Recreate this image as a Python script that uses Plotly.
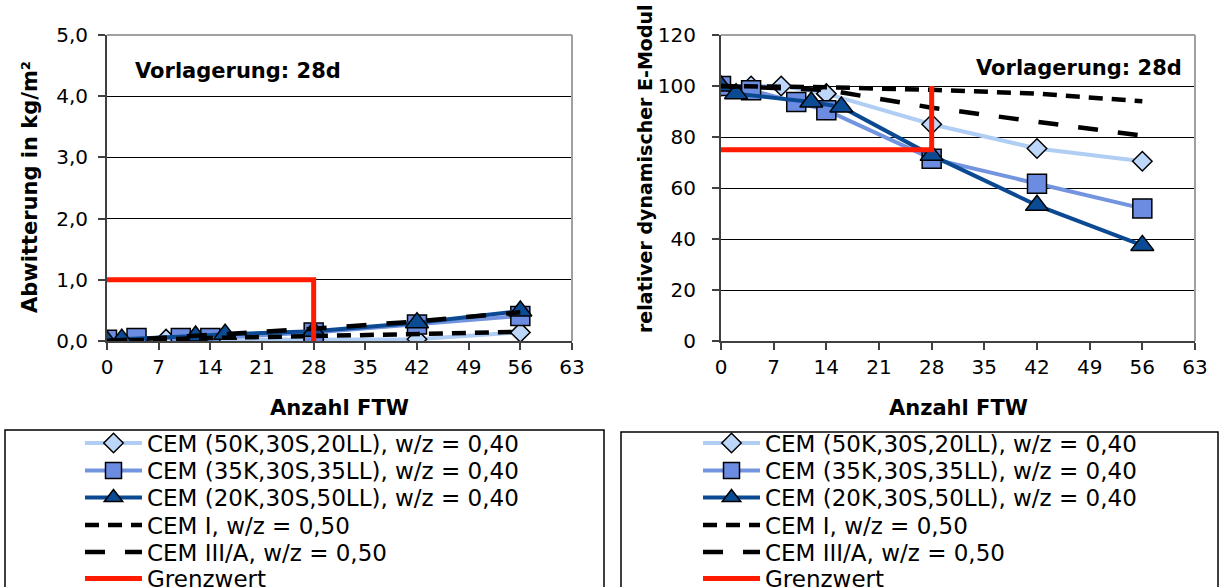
import plotly.graph_objects as go

W, H = 1219, 587

# ---------------- data ----------------
series_names = [
    "CEM (50K,30S,20LL), w/z = 0,40",
    "CEM (35K,30S,35LL), w/z = 0,40",
    "CEM (20K,30S,50LL), w/z = 0,40",
    "CEM I, w/z = 0,50",
    "CEM III/A, w/z = 0,50",
    "Grenzwert",
]

ftw_50 = [0, 4, 8, 14, 28, 42, 56]
ftw_35 = [0, 4, 10, 14, 28, 42, 56]
ftw_20 = [0, 2, 12, 16, 28, 42, 56]
ftw_cem1 = [0, 14, 28, 42, 56]
ftw_cem3 = [0, 14, 28, 42, 56]
ftw_limit = [0, 28, 28]

# Abwitterung in kg/m²
abw_50 = [0.00, 0.02, 0.03, 0.03, 0.02, 0.03, 0.14]
abw_35 = [0.02, 0.05, 0.05, 0.05, 0.14, 0.27, 0.41]
abw_20 = [0.00, 0.03, 0.08, 0.11, 0.16, 0.30, 0.49]
abw_cem1 = [0.00, 0.05, 0.08, 0.11, 0.15]
abw_cem3 = [0.00, 0.10, 0.20, 0.32, 0.47]
abw_limit = [1.0, 1.0, 0.0]

# relativer dynamischer E-Modul in %
edyn_50 = [100, 100, 100, 97, 85, 75.5, 70.5]
edyn_35 = [100, 98.3, 93.7, 90.5, 71.5, 61.7, 52]
edyn_20 = [100, 97, 93.7, 91.8, 72.8, 53.2, 37.5]
edyn_cem1 = [100, 99.5, 98.5, 97, 94]
edyn_cem3 = [100, 98.5, 91.5, 86, 80.5]
edyn_limit = [75, 75, 100]

x_tick_vals = [0, 7, 14, 21, 28, 35, 42, 49, 56, 63]
y1_tick_vals = [0, 1, 2, 3, 4, 5]
y1_tick_text = ["0,0", "1,0", "2,0", "3,0", "4,0", "5,0"]
y2_tick_vals = [0, 20, 40, 60, 80, 100, 120]

# ---------------- styles ----------------
FONT = "DejaVu Sans"
styles = [
    dict(mode="lines+markers", line=dict(color="#b0cdf4", width=4),
         marker=dict(symbol="diamond", size=15, color="#bdd7fb", line=dict(color="#000", width=1.5))),
    dict(mode="lines+markers", line=dict(color="#7395df", width=4),
         marker=dict(symbol="square", size=19, color="#6b8ce0", line=dict(color="#000", width=1.5))),
    dict(mode="lines+markers", line=dict(color="#0b4a92", width=4),
         marker=dict(symbol="triangle-up", size=20, color="#0a4b94", line=dict(color="#000", width=1.5))),
    dict(mode="lines", line=dict(color="#000", width=4.5, dash="14px,9px")),
    dict(mode="lines", line=dict(color="#000", width=4.5, dash="20px,20px")),
    dict(mode="lines", line=dict(color="#ff1a00", width=5)),
]

left_x = [ftw_50, ftw_35, ftw_20, ftw_cem1, ftw_cem3, ftw_limit]
left_y = [abw_50, abw_35, abw_20, abw_cem1, abw_cem3, abw_limit]
right_x = [ftw_50, ftw_35, ftw_20, ftw_cem1, ftw_cem3, ftw_limit]
right_y = [edyn_50, edyn_35, edyn_20, edyn_cem1, edyn_cem3, edyn_limit]


def px(x):
    return x / W


def py(y):
    return 1 - y / H


fig = go.Figure()

row_centres = [443, 470.5, 497.5, 525, 552, 578.5]
legend_layouts = {}
n = 0
for side, xs, ys, xa, ya, lx in [
    ("L", left_x, left_y, "x", "y", 80),
    ("R", right_x, right_y, "x2", "y2", 698),
]:
    for i in range(6):
        n += 1
        lname = "legend" if n == 1 else f"legend{n}"
        fig.add_trace(go.Scatter(
            x=xs[i], y=ys[i], name=series_names[i], xaxis=xa, yaxis=ya,
            legend=lname, showlegend=True, **styles[i]))
        legend_layouts[lname] = dict(
            x=px(lx), xanchor="left", y=py(row_centres[i]), yanchor="middle",
            bgcolor="rgba(0,0,0,0)", borderwidth=0, itemwidth=57,
            font=dict(family=FONT, size=23, color="#000"),
            itemclick=False, itemdoubleclick=False,
        )

axis_common = dict(
    showline=True, linecolor="#404040", linewidth=2,
    ticks="outside", ticklen=7, tickcolor="#404040", tickwidth=1.5,
    tickfont=dict(family=FONT, size=20, color="#000"),
    zeroline=False,
)

y_dom = [py(341), py(35)]

fig.update_layout(
    width=W, height=H,
    margin=dict(l=0, r=0, t=0, b=0, autoexpand=False),
    paper_bgcolor="white", plot_bgcolor="white",
    font=dict(family=FONT, color="#000"),
    xaxis=dict(domain=[px(107), px(572)], anchor="y", range=[0, 63],
               tickvals=x_tick_vals, showgrid=False, **axis_common),
    yaxis=dict(domain=y_dom, anchor="x", range=[0, 5],
               tickvals=y1_tick_vals, ticktext=y1_tick_text,
               showgrid=True, gridcolor="#000", gridwidth=1,
               ticklabelstandoff=6, **axis_common),
    xaxis2=dict(domain=[px(721), px(1195)], anchor="y2", range=[0, 63],
                tickvals=x_tick_vals, showgrid=False, **axis_common),
    yaxis2=dict(domain=y_dom, anchor="x2", range=[0, 120],
                tickvals=y2_tick_vals,
                showgrid=True, gridcolor="#000", gridwidth=1,
                ticklabelstandoff=12, **axis_common),
    showlegend=True,
    **legend_layouts,
)

shapes = []
# grey frame (top & right) of both plot areas
for xr, yr in [("x domain", "y domain"), ("x2 domain", "y2 domain")]:
    shapes.append(dict(type="line", xref=xr, yref=yr, x0=0, x1=1, y0=1, y1=1,
                       line=dict(color="#a0a0a0", width=2), layer="above"))
    shapes.append(dict(type="line", xref=xr, yref=yr, x0=1, x1=1, y0=0, y1=1,
                       line=dict(color="#a0a0a0", width=2), layer="above"))
# legend boxes
shapes.append(dict(type="rect", xref="paper", yref="paper",
                   x0=px(5), x1=px(604), y0=py(600), y1=py(430),
                   line=dict(color="#000", width=1.5)))
shapes.append(dict(type="rect", xref="paper", yref="paper",
                   x0=px(621), x1=px(1218), y0=py(600), y1=py(432),
                   line=dict(color="#000", width=1.5)))
fig.update_layout(shapes=shapes)

ann = []
title_font = dict(family=FONT, size=21, color="#000")
ann.append(dict(text="<b>Anzahl FTW</b>", x=px(339.5), y=py(408), xref="paper", yref="paper",
                showarrow=False, xanchor="center", yanchor="middle", font=title_font))
ann.append(dict(text="<b>Anzahl FTW</b>", x=px(958), y=py(408), xref="paper", yref="paper",
                showarrow=False, xanchor="center", yanchor="middle", font=title_font))
ann.append(dict(text="<b>Abwitterung in kg/m²</b>", x=px(30), y=py(187), xref="paper", yref="paper",
                showarrow=False, xanchor="center", yanchor="middle", textangle=-90,
                font=dict(family=FONT, size=21, color="#000")))
ann.append(dict(text="<b>relativer dynamischer E-Modul</b>", x=px(645), y=py(169), xref="paper", yref="paper",
                showarrow=False, xanchor="center", yanchor="middle", textangle=-90,
                font=dict(family=FONT, size=19, color="#000")))
ann.append(dict(text="<b>Vorlagerung: 28d</b>", x=px(133), y=py(71), xref="paper", yref="paper",
                showarrow=False, xanchor="left", yanchor="middle",
                font=dict(family=FONT, size=21, color="#000")))
ann.append(dict(text="<b>Vorlagerung: 28d</b>", x=px(1184), y=py(68), xref="paper", yref="paper",
                showarrow=False, xanchor="right", yanchor="middle",
                font=dict(family=FONT, size=21, color="#000")))
fig.update_layout(annotations=ann)

fig.write_html("out.html")
